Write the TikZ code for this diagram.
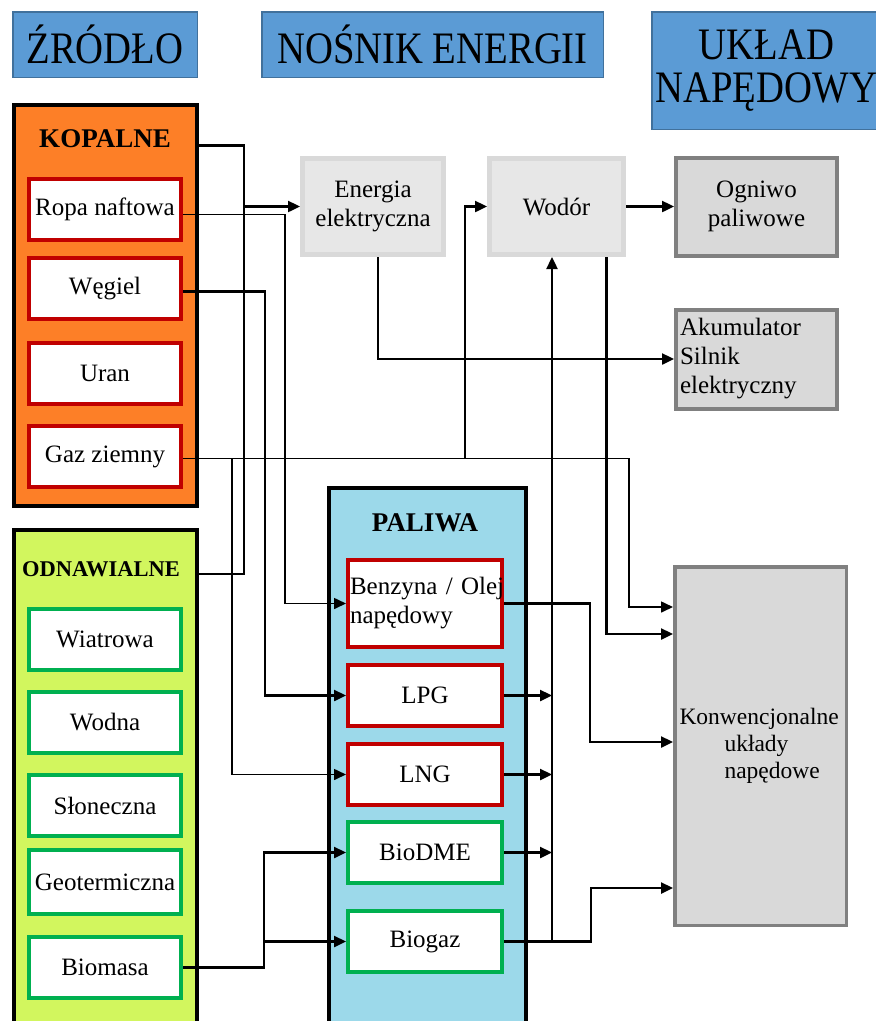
\documentclass[tikz,border=0pt]{standalone}
\usepackage{fontspec}
\setmainfont{Liberation Serif}
\newfontfamily\headfont[FakeStretch=0.86]{Liberation Serif}
\usetikzlibrary{arrows.meta,positioning}
\definecolor{Head}{HTML}{5B9BD5}
\definecolor{HeadLine}{HTML}{41719C}
\definecolor{Fossil}{HTML}{FD7F27}
\definecolor{Renew}{HTML}{D2F65E}
\definecolor{Fuel}{HTML}{9CD9EA}
\definecolor{RedLine}{HTML}{C00000}
\definecolor{GreenLine}{HTML}{00B050}
\definecolor{Carrier}{HTML}{E7E7E7}
\definecolor{CarrierLine}{HTML}{D9D9D9}
\definecolor{Drive}{HTML}{D9D9D9}
\definecolor{DriveLine}{HTML}{808080}

\begin{document}
\begin{tikzpicture}[x=1pt,y=-1pt,
    font=\rmfamily\fontsize{25}{29}\selectfont,
    head/.style={draw=HeadLine,fill=Head,line width=1.5pt,anchor=north west,align=center,
      inner sep=0pt,font=\headfont\fontsize{45}{43}\selectfont},
    group/.style={draw=black,line width=4pt,anchor=north west,inner sep=0pt,minimum width=183pt},
    grouptitle/.style={font=\rmfamily\bfseries\fontsize{27}{30}\selectfont},
    src/.style={draw=#1,fill=white,line width=4pt,minimum width=152pt,minimum height=61pt,inner sep=0pt},
    carrier/.style={draw=CarrierLine,fill=Carrier,line width=5pt,minimum height=96pt,align=center},
    drive/.style={draw=DriveLine,fill=Drive,line width=4pt,align=center},
    conn/.style={line width=2.4pt},
    thinconn/.style={line width=1.6pt},
    arr/.style={conn,-{Triangle[length=12pt,width=11pt]}}
  ]
    \useasboundingbox (0,0) rectangle (876,1021);

    \node[head,minimum width=184.5pt,minimum height=65.5pt] (hsrc) at (12,11) {ŹRÓDŁO};
    \node[head,minimum width=341.5pt,minimum height=65.5pt] (hcar) at (261,11) {NOŚNIK ENERGII};
    \node[head,minimum width=229pt,minimum height=117.5pt] (hdrv) at (651,11) {UKŁAD\\NAPĘDOWY};

    \node[group,fill=Fossil,minimum height=401pt] (kop) at (12,103) {};
    \node[group,fill=Renew,minimum height=508pt] (odn) at (12,528) {};
    \node[group,fill=Fuel,minimum width=197pt,minimum height=550pt] (pal) at (327,486) {};
    \node[grouptitle] (kopT) at (105,139) {KOPALNE};
    \node[grouptitle,font=\rmfamily\bfseries\fontsize{22.5}{27}\selectfont] (odnT) at (101,569) {ODNAWIALNE};
    \node[grouptitle] (palT) at (425,523) {PALIWA};

    \node[src=RedLine,anchor=north west] (ropa) at (27,177) {Ropa naftowa};
    \node[src=RedLine,below=14pt of ropa] (wegiel) {Węgiel};
    \node[src=RedLine,below=20pt of wegiel] (uran) {Uran};
    \node[src=RedLine,below=18pt of uran] (gaz) {Gaz ziemny};

    \node[src=GreenLine,anchor=north west] (wiatr) at (27,607) {Wiatrowa};
    \node[src=GreenLine,below=18pt of wiatr] (wodna) {Wodna};
    \node[src=GreenLine,below=18pt of wodna] (slon) {Słoneczna};
    \node[src=GreenLine,below=10pt of slon,minimum height=64pt] (geo) {Geotermiczna};
    \node[src=GreenLine,below=19pt of geo] (biom) {Biomasa};

    \node[src=RedLine,anchor=north west,minimum width=0pt,minimum height=87pt,text width=150pt,
      inner xsep=2pt,align=left] (benz) at (346,558) {\mbox{Benzyna / Olej}\\napędowy};
    \node[src=RedLine,below=14pt of benz,minimum width=154pt] (lpg) {LPG};
    \node[src=RedLine,below=14pt of lpg,minimum width=154pt] (lng) {LNG};
    \node[src=GreenLine,below=13pt of lng,minimum width=154pt] (biodme) {BioDME};
    \node[src=GreenLine,below=24pt of biodme,minimum width=154pt] (biogaz) {Biogaz};

    \node[carrier,anchor=north west,minimum width=141pt] (energia) at (300,156) {Energia\\elektryczna};
    \node[carrier,right=41pt of energia,minimum width=134pt] (wodor) {Wodór};
    \node[drive,right=48pt of wodor,minimum width=161pt,minimum height=98pt] (ogniwo) {Ogniwo\\paliwowe};
    \node[drive,below=50pt of ogniwo,minimum height=99pt,text width=153pt,inner xsep=4pt,
      align=left] (aku) {Akumulator\\Silnik\\elektryczny};
    \node[drive,anchor=north west,line width=3.5pt,minimum height=358.5pt,text width=162pt,
      inner xsep=4.75pt,align=left,font=\rmfamily\fontsize{23.5}{27}\selectfont] (konw) at (673,565)
      {Konwencjonalne\\\hspace*{45pt}układy\\\hspace*{45pt}napędowe};

    \coordinate (bk) at (244,0);
    \coordinate (br) at (285,0);
    \coordinate (bw) at (265,0);
    \coordinate (bg) at (232,0);
    \coordinate (bh) at (465,0);
    \coordinate (bp) at (552,0);
    \coordinate (bb) at (590,0);
    \coordinate (bq) at (591,0);
    \coordinate (bz) at (629,0);
    \coordinate (bm) at (264,0);

    \draw[conn] (kopT.mid -| kop.east) -- (kopT.mid -| bk) -- (odnT.mid -| bk) -- (odnT.mid -| odn.east);
    \draw[arr] (energia.west -| bk) -- (energia.west);
    \draw[arr,thinconn] ([yshift=-5pt]ropa.east) -- ([yshift=-5pt]ropa.east -| br) |- (benz.west);
    \draw[arr] ([yshift=-3pt]wegiel.east) -- ([yshift=-3pt]wegiel.east -| bw) |- (lpg.west);
    \draw[arr,thinconn] ([yshift=-2pt]gaz.east) -- ([yshift=-2pt]gaz.east -| bg) |- (lng.west);
    \draw[arr,thinconn] ([yshift=-2pt]gaz.east) -- ([yshift=-2pt]gaz.east -| bz) |- ([yshift=139pt]konw.west);
    \draw[arr] ([yshift=-2pt]gaz.east -| bh) |- (wodor.west);
    \draw[arr] ([xshift=5pt]energia.south) |- (aku.west);
    \draw[arr] (wodor.east) -- (ogniwo.west);
    \draw[arr] ([xshift=50pt]wodor.south) |- ([yshift=112pt]konw.west);
    \draw[arr] (benz.east) -- (benz.east -| bb) |- ([yshift=4pt]konw.west);
    \draw[arr] (lpg.east) -- (lpg.east -| bp);
    \draw[arr] (lng.east) -- (lng.east -| bp);
    \draw[arr] (biodme.east) -- (biodme.east -| bp);
    \draw[arr] (biogaz.east) -- (biogaz.east -| bp) -- (bp |- wodor.south);
    \draw[arr] (biogaz.east -| bp) -- (biogaz.east -| bq) |- ([yshift=-142pt]konw.west);
    \draw[arr] (biom.east) -- (biom.east -| bm) |- (biodme.west);
    \draw[arr] (biom.east -| bm) |- (biogaz.west);
  \end{tikzpicture}
\end{document}
